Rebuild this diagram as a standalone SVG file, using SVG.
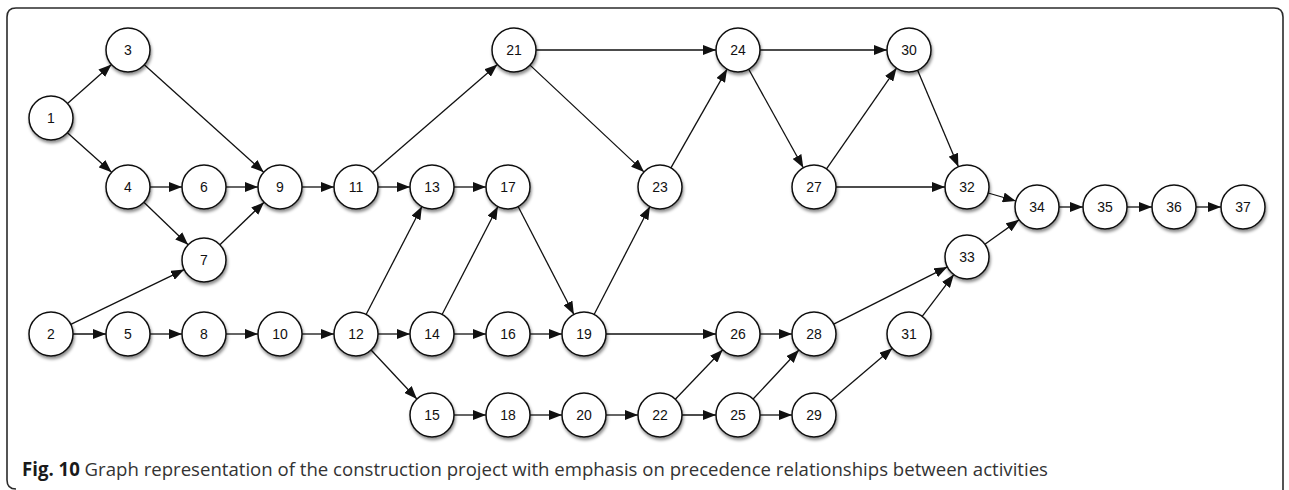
<svg xmlns="http://www.w3.org/2000/svg" width="1289" height="490" viewBox="0 0 1289 490">
  <style>
    .frame { fill: none; stroke: #2b2b2b; stroke-width: 1.6; }
    .node circle { fill: #ffffff; stroke: #111111; stroke-width: 1.5; filter: url(#shadow); }
    .node text { font-family: "Liberation Sans", Arial, sans-serif; font-size: 14px; fill: #111111; text-anchor: middle; dominant-baseline: central; }
    .edges line { stroke: #111111; stroke-width: 1.3; marker-end: url(#arrow); }
    .caption { font-family: "Open Sans", "Liberation Sans", sans-serif; font-size: 19px; fill: #333333; }
    .caption .b { font-weight: bold; fill: #1a1a1a; }
  </style>
  <defs>
    <filter id="shadow" x="-30%" y="-30%" width="160%" height="170%">
      <feDropShadow dx="1" dy="2.5" stdDeviation="1.6" flood-color="#000000" flood-opacity="0.45"/>
    </filter>
    <marker id="arrow" markerUnits="userSpaceOnUse" markerWidth="14" markerHeight="10" refX="13" refY="5" orient="auto">
      <path d="M0,0 L13,5 L0,10 Z" fill="#111111"/>
    </marker>
  </defs>

  <!-- caption frame with rounded corners -->
  <path class="frame" d="M1283,490 L1283,17 Q1283,8 1274,8 L16,8 Q7,8 7,17 L7,480 Q7,489 16,489"/>

  <g id="connectors" class="edges">
    <line x1="67.5" y1="103.4" x2="111.5" y2="64.6"/>
    <line x1="67.4" y1="132.7" x2="111.6" y2="172.3"/>
    <line x1="144.3" y1="64.7" x2="263.7" y2="172.3"/>
    <line x1="150" y1="187" x2="182" y2="187"/>
    <line x1="143.9" y1="202.2" x2="188.1" y2="244.8"/>
    <line x1="226" y1="187" x2="258" y2="187"/>
    <line x1="219.9" y1="244.8" x2="264.1" y2="202.2"/>
    <line x1="302" y1="187" x2="334" y2="187"/>
    <line x1="70.8" y1="324.4" x2="184.2" y2="269.6"/>
    <line x1="73" y1="334" x2="106" y2="334"/>
    <line x1="150" y1="334" x2="182" y2="334"/>
    <line x1="226" y1="334" x2="258" y2="334"/>
    <line x1="302" y1="334" x2="334" y2="334"/>
    <line x1="372.6" y1="172.6" x2="497.4" y2="64.4"/>
    <line x1="378" y1="187" x2="410" y2="187"/>
    <line x1="454" y1="187" x2="486" y2="187"/>
    <line x1="366.1" y1="314.5" x2="421.9" y2="206.5"/>
    <line x1="378" y1="334" x2="410" y2="334"/>
    <line x1="371.1" y1="350" x2="416.9" y2="399"/>
    <line x1="442.1" y1="314.5" x2="497.9" y2="206.5"/>
    <line x1="454" y1="334" x2="486" y2="334"/>
    <line x1="530" y1="334" x2="562" y2="334"/>
    <line x1="518.1" y1="206.5" x2="573.9" y2="314.5"/>
    <line x1="454" y1="415" x2="486" y2="415"/>
    <line x1="530" y1="415" x2="562" y2="415"/>
    <line x1="606" y1="415" x2="638" y2="415"/>
    <line x1="594.1" y1="314.5" x2="649.9" y2="206.5"/>
    <line x1="606" y1="334" x2="716" y2="334"/>
    <line x1="536" y1="50" x2="716" y2="50"/>
    <line x1="530" y1="65.1" x2="644" y2="171.9"/>
    <line x1="670.9" y1="167.9" x2="727.1" y2="69.1"/>
    <line x1="760" y1="50" x2="887" y2="50"/>
    <line x1="748.7" y1="69.2" x2="803.3" y2="167.8"/>
    <line x1="826.5" y1="168.9" x2="896.5" y2="68.1"/>
    <line x1="836" y1="187" x2="945" y2="187"/>
    <line x1="917.6" y1="70.3" x2="958.4" y2="166.7"/>
    <line x1="675.3" y1="399.2" x2="722.7" y2="349.8"/>
    <line x1="682" y1="415" x2="716" y2="415"/>
    <line x1="760" y1="334" x2="792" y2="334"/>
    <line x1="753.1" y1="399" x2="798.9" y2="350"/>
    <line x1="760" y1="415" x2="792" y2="415"/>
    <line x1="833.7" y1="324.1" x2="947.3" y2="266.9"/>
    <line x1="830.7" y1="400.7" x2="892.3" y2="348.3"/>
    <line x1="922.2" y1="316.4" x2="953.8" y2="274.6"/>
    <line x1="988.2" y1="193" x2="1015.8" y2="201"/>
    <line x1="984.9" y1="244.2" x2="1019.1" y2="219.8"/>
    <line x1="1059" y1="207" x2="1083" y2="207"/>
    <line x1="1127" y1="207" x2="1152" y2="207"/>
    <line x1="1196" y1="207" x2="1221" y2="207"/>
  </g>

  <g id="n1" class="node"><circle cx="51" cy="118" r="22"/><text x="51" y="118">1</text></g>
  <g id="n2" class="node"><circle cx="51" cy="334" r="22"/><text x="51" y="334">2</text></g>
  <g id="n3" class="node"><circle cx="128" cy="50" r="22"/><text x="128" y="50">3</text></g>
  <g id="n4" class="node"><circle cx="128" cy="187" r="22"/><text x="128" y="187">4</text></g>
  <g id="n5" class="node"><circle cx="128" cy="334" r="22"/><text x="128" y="334">5</text></g>
  <g id="n6" class="node"><circle cx="204" cy="187" r="22"/><text x="204" y="187">6</text></g>
  <g id="n7" class="node"><circle cx="204" cy="260" r="22"/><text x="204" y="260">7</text></g>
  <g id="n8" class="node"><circle cx="204" cy="334" r="22"/><text x="204" y="334">8</text></g>
  <g id="n9" class="node"><circle cx="280" cy="187" r="22"/><text x="280" y="187">9</text></g>
  <g id="n10" class="node"><circle cx="280" cy="334" r="22"/><text x="280" y="334">10</text></g>
  <g id="n11" class="node"><circle cx="356" cy="187" r="22"/><text x="356" y="187">11</text></g>
  <g id="n12" class="node"><circle cx="356" cy="334" r="22"/><text x="356" y="334">12</text></g>
  <g id="n13" class="node"><circle cx="432" cy="187" r="22"/><text x="432" y="187">13</text></g>
  <g id="n14" class="node"><circle cx="432" cy="334" r="22"/><text x="432" y="334">14</text></g>
  <g id="n15" class="node"><circle cx="432" cy="415" r="22"/><text x="432" y="415">15</text></g>
  <g id="n16" class="node"><circle cx="508" cy="334" r="22"/><text x="508" y="334">16</text></g>
  <g id="n17" class="node"><circle cx="508" cy="187" r="22"/><text x="508" y="187">17</text></g>
  <g id="n18" class="node"><circle cx="508" cy="415" r="22"/><text x="508" y="415">18</text></g>
  <g id="n19" class="node"><circle cx="584" cy="334" r="22"/><text x="584" y="334">19</text></g>
  <g id="n20" class="node"><circle cx="584" cy="415" r="22"/><text x="584" y="415">20</text></g>
  <g id="n21" class="node"><circle cx="514" cy="50" r="22"/><text x="514" y="50">21</text></g>
  <g id="n22" class="node"><circle cx="660" cy="415" r="22"/><text x="660" y="415">22</text></g>
  <g id="n23" class="node"><circle cx="660" cy="187" r="22"/><text x="660" y="187">23</text></g>
  <g id="n24" class="node"><circle cx="738" cy="50" r="22"/><text x="738" y="50">24</text></g>
  <g id="n25" class="node"><circle cx="738" cy="415" r="22"/><text x="738" y="415">25</text></g>
  <g id="n26" class="node"><circle cx="738" cy="334" r="22"/><text x="738" y="334">26</text></g>
  <g id="n27" class="node"><circle cx="814" cy="187" r="22"/><text x="814" y="187">27</text></g>
  <g id="n28" class="node"><circle cx="814" cy="334" r="22"/><text x="814" y="334">28</text></g>
  <g id="n29" class="node"><circle cx="814" cy="415" r="22"/><text x="814" y="415">29</text></g>
  <g id="n30" class="node"><circle cx="909" cy="50" r="22"/><text x="909" y="50">30</text></g>
  <g id="n31" class="node"><circle cx="909" cy="334" r="22"/><text x="909" y="334">31</text></g>
  <g id="n32" class="node"><circle cx="967" cy="187" r="22"/><text x="967" y="187">32</text></g>
  <g id="n33" class="node"><circle cx="967" cy="257" r="22"/><text x="967" y="257">33</text></g>
  <g id="n34" class="node"><circle cx="1037" cy="207" r="22"/><text x="1037" y="207">34</text></g>
  <g id="n35" class="node"><circle cx="1105" cy="207" r="22"/><text x="1105" y="207">35</text></g>
  <g id="n36" class="node"><circle cx="1174" cy="207" r="22"/><text x="1174" y="207">36</text></g>
  <g id="n37" class="node"><circle cx="1243" cy="207" r="22"/><text x="1243" y="207">37</text></g>

  <text class="caption" x="22" y="476" textLength="1026" lengthAdjust="spacingAndGlyphs"><tspan class="b">Fig. 10</tspan> Graph representation of the construction project with emphasis on precedence relationships between activities</text>
</svg>
